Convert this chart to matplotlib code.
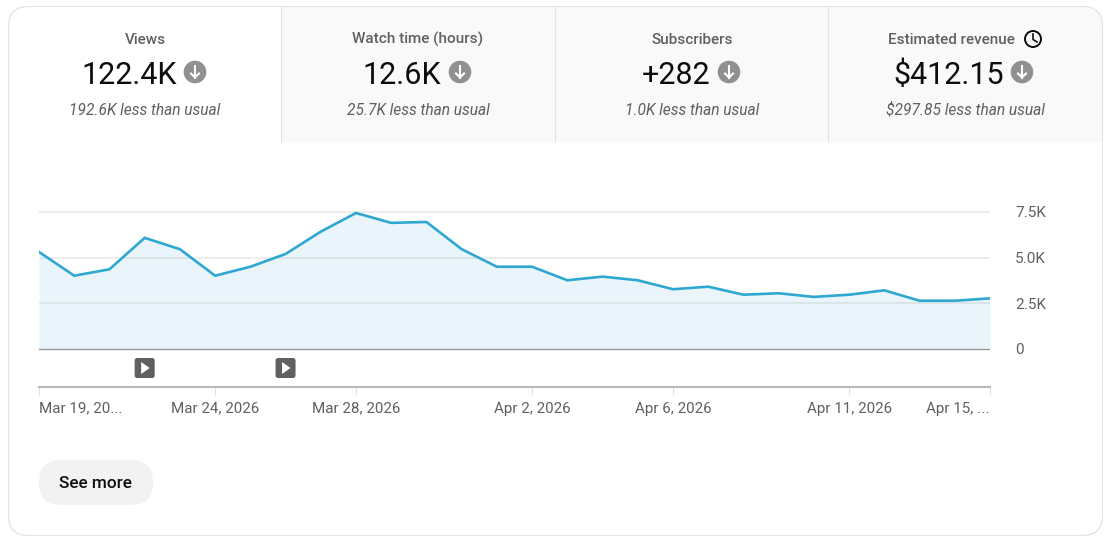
import numpy as np
import pandas as pd
import matplotlib
matplotlib.use("Agg")
import matplotlib.pyplot as plt
from matplotlib.patches import FancyBboxPatch, Rectangle, Circle, Polygon

plt.rcParams['font.family'] = ['Roboto', 'DejaVu Sans']

# data
days = pd.date_range("2026-03-19", "2026-04-15")
views = [5.31, 4.01, 4.36, 6.08, 5.46, 4.01, 4.50, 5.20, 6.42, 7.44,
         6.90, 6.95, 5.46, 4.50, 4.50, 3.76, 3.96, 3.76, 3.27, 3.41,
         2.97, 3.05, 2.85, 2.97, 3.21, 2.64, 2.64, 2.77]
y_ticks = [0, 2.5, 5.0, 7.5]
y_labels = ["0", "2.5K", "5.0K", "7.5K"]
tick_days = ["2026-03-19", "2026-03-24", "2026-03-28", "2026-04-02",
             "2026-04-06", "2026-04-11", "2026-04-15"]
tick_labels = ["Mar 19, 20...", "Mar 24, 2026", "Mar 28, 2026", "Apr 2, 2026",
               "Apr 6, 2026", "Apr 11, 2026", "Apr 15, ..."]
video_days = ["2026-03-22", "2026-03-26"]

card_titles = ["Views", "Watch time (hours)", "Subscribers", "Estimated revenue"]
card_values = ["122.4K", "12.6K", "+282", "$412.15"]
card_notes = ["192.6K less than usual", "25.7K less than usual",
              "1.0K less than usual", "$297.85 less than usual"]

W, H = 1108, 542
fig = plt.figure(figsize=(W / 100, H / 100), dpi=100, facecolor="white")

# overlay in pixel coordinates for the cards
bg = fig.add_axes([0, 0, 1, 1], zorder=0)
bg.set_xlim(0, W)
bg.set_ylim(H, 0)
bg.axis("off")

# grey tabs, clipped by the rounded border
border = FancyBboxPatch((8.5, 6.5), 1094, 529, boxstyle="round,pad=0,rounding_size=20",
                        fc="white", ec="#e5e5e5", lw=0.75, zorder=1)
bg.add_patch(border)
tabs = Rectangle((281, 6.5), 822, 135.5, fc="#f9f9f9", ec="none", zorder=2)
bg.add_patch(tabs)
tabs.set_clip_path(border)
bg.add_patch(FancyBboxPatch((8.5, 6.5), 1094, 529, boxstyle="round,pad=0,rounding_size=20",
                            fc="none", ec="#e5e5e5", lw=0.75, zorder=3))
for x in [280.5, 554.5, 827.5]:
    bg.plot([x, x], [7, 142], color="#e3e3e3", lw=0.75, zorder=3, solid_capstyle="butt")

title_x = [145, 418, 692, 951]
value_x = [129, 402, 676, 949]
icon_x = [195, 460, 729, 1022]
note_x = [145, 418, 692, 965]
for i in range(4):
    bg.text(title_x[i], 44, card_titles[i], ha="center", va="baseline", fontsize=11,
            fontweight="medium", color="#606060", zorder=4)
    bg.text(value_x[i], 84, card_values[i], ha="center", va="baseline", fontsize=22,
            color="#0d0d0d", zorder=4)
    bg.text(note_x[i], 115, card_notes[i], ha="center", va="baseline", fontsize=11.2,
            style="italic", color="#606060", zorder=4)
    # down arrow badge
    cx = icon_x[i]
    bg.add_patch(Circle((cx, 72), 11.3, fc="#909090", ec="none", zorder=4))
    bg.plot([cx, cx], [66, 77.5], color="white", lw=1.5, zorder=5)
    bg.plot([cx - 4, cx, cx + 4], [73.5, 77.5, 73.5], color="white", lw=1.5, zorder=5)

# clock next to revenue
bg.add_patch(Circle((1033, 39), 8, fc="none", ec="#0d0d0d", lw=1.4, zorder=4))
bg.plot([1033, 1033, 1037], [34, 39.5, 42], color="#0d0d0d", lw=1.2, zorder=4)

# see more button
bg.add_patch(FancyBboxPatch((39, 460), 114, 45, boxstyle="round,pad=0,rounding_size=22",
                            fc="#f2f2f2", ec="none", zorder=2))
bg.text(95.5, 483.5, "See more", ha="center", va="center", fontsize=12.4,
        fontweight="medium", color="#0d0d0d", zorder=4)

# chart, 0 sits at y=349px and 2.5K takes 45.7px
top_px, bottom_px = 190, 387
ax = fig.add_axes([39 / W, 1 - bottom_px / H, (990 - 39) / W, (bottom_px - top_px) / H], zorder=1)
ax.patch.set_alpha(0)
px_per_k = 45.7 / 2.5
ax.set_ylim(-(bottom_px - 349) / px_per_k, (349 - top_px) / px_per_k)
ax.set_xlim(days[0], days[-1])

for t in y_ticks[1:]:
    ax.axhline(t, color="#ececec", lw=1.3, zorder=1)
ax.fill_between(days, views, 0, color="#2ba6cf", alpha=0.1, lw=0, zorder=2)
ax.axhline(0, color="#909090", lw=0.9, zorder=3)
ax.plot(days, views, color="#2ea8d0", lw=1.9, zorder=4, solid_joinstyle="miter")

for spine in ["top", "left", "right"]:
    ax.spines[spine].set_visible(False)
ax.spines["bottom"].set_color("#b8b8b8")
ax.spines["bottom"].set_linewidth(1.5)

ax.yaxis.tick_right()
ax.set_yticks(y_ticks)
ax.set_yticklabels(y_labels)
ax.tick_params(axis="y", length=0, pad=18, labelsize=11, labelcolor="#606060")
ax.set_xticks(pd.to_datetime(tick_days))
ax.set_xticklabels(tick_labels)
ax.tick_params(axis="x", length=6, width=0.8, color="#e0e0e0", pad=4.5, labelsize=10.9,
               labelcolor="#606060")
ax.get_xticklabels()[0].set_ha("left")
ax.get_xticklabels()[-1].set_ha("right")

# video published markers, placed from the chart's own scale
video_y = -(368 - 349) / px_per_k
for d in pd.to_datetime(video_days):
    disp = ax.transData.transform((matplotlib.dates.date2num(d), video_y))
    vx, vy = bg.transData.inverted().transform(disp)
    fig_badge = FancyBboxPatch((vx - 10, vy - 10), 20, 20, boxstyle="round,pad=0,rounding_size=2.5",
                               fc="#606060", ec="none", zorder=4)
    bg.add_patch(fig_badge)
    bg.add_patch(Polygon([(vx - 3.5, vy - 6), (vx + 5, vy), (vx - 3.5, vy + 6)],
                         fc="white", ec="none", zorder=5))

fig.savefig("out.png", dpi=100)
